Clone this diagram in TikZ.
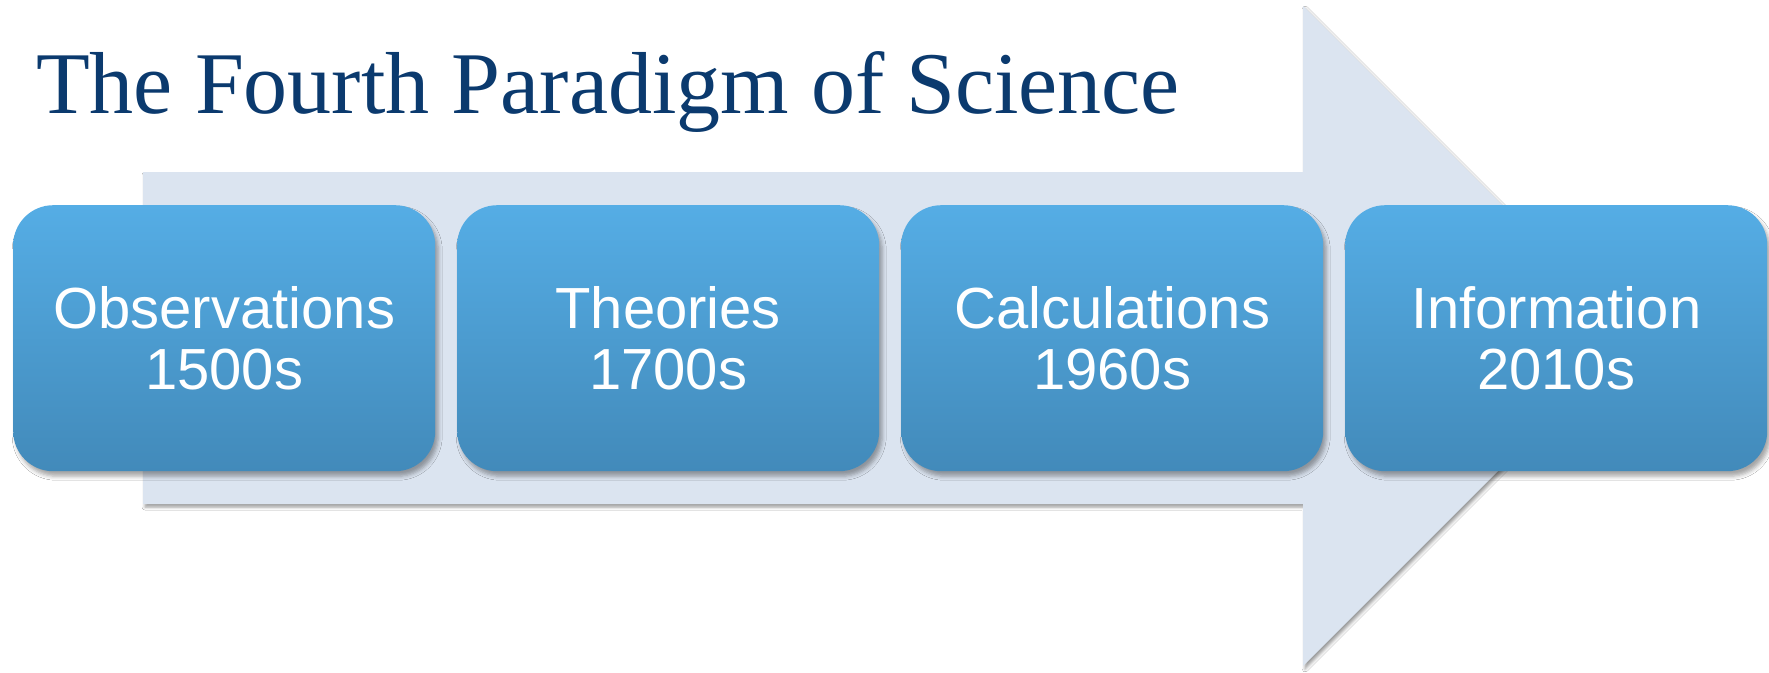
\documentclass[tikz,border=0pt]{standalone}
\usepackage{fontspec}
\setmainfont{Liberation Serif}
\newfontfamily\boxfont{Liberation Sans}
\usetikzlibrary{shadows.blur}
\definecolor{titleblue}{HTML}{0B3A6E}
\definecolor{arrowfill}{HTML}{DBE4F0}
\definecolor{boxtop}{HTML}{55ADE5}
\definecolor{boxbot}{HTML}{428ABA}
\begin{document}
\begin{tikzpicture}[x=1pt,y=-1pt,
  stagebox/.style={rounded corners=40pt, minimum width=422pt, minimum height=266pt,
    top color=boxtop, bottom color=boxbot, text=white, align=center,
    font=\boxfont\fontsize{58}{61}\selectfont, inner sep=0pt, anchor=north west,
    blur shadow={shadow xshift=3pt, shadow yshift=-5pt, shadow blur radius=4pt, shadow opacity=35}},
  bigarrow/.style={fill=arrowfill,
    blur shadow={shadow xshift=2pt, shadow yshift=-3pt, shadow blur radius=3pt, shadow opacity=40}}]
\useasboundingbox (0,0) rectangle (1769,672);
\fill[white] (0,0) rectangle (1769,672);
\path[bigarrow] (143,172) -- (1303,172) -- (1303,6) -- (1633,336) -- (1303,666) -- (1303,504) -- (143,504) -- cycle;
\node[anchor=base west, text=titleblue, font=\fontsize{88}{100}\selectfont, inner sep=0pt] (title) at (36,113) {The Fourth Paradigm of Science};
\node[stagebox] (obs) at (13,205) {Observations\\1500s};
\node[stagebox] (theo) at (457,205) {Theories\\1700s};
\node[stagebox] (calc) at (901,205) {Calculations\\1960s};
\node[stagebox] (info) at (1345,205) {Information\\2010s};
\end{tikzpicture}
\end{document}
